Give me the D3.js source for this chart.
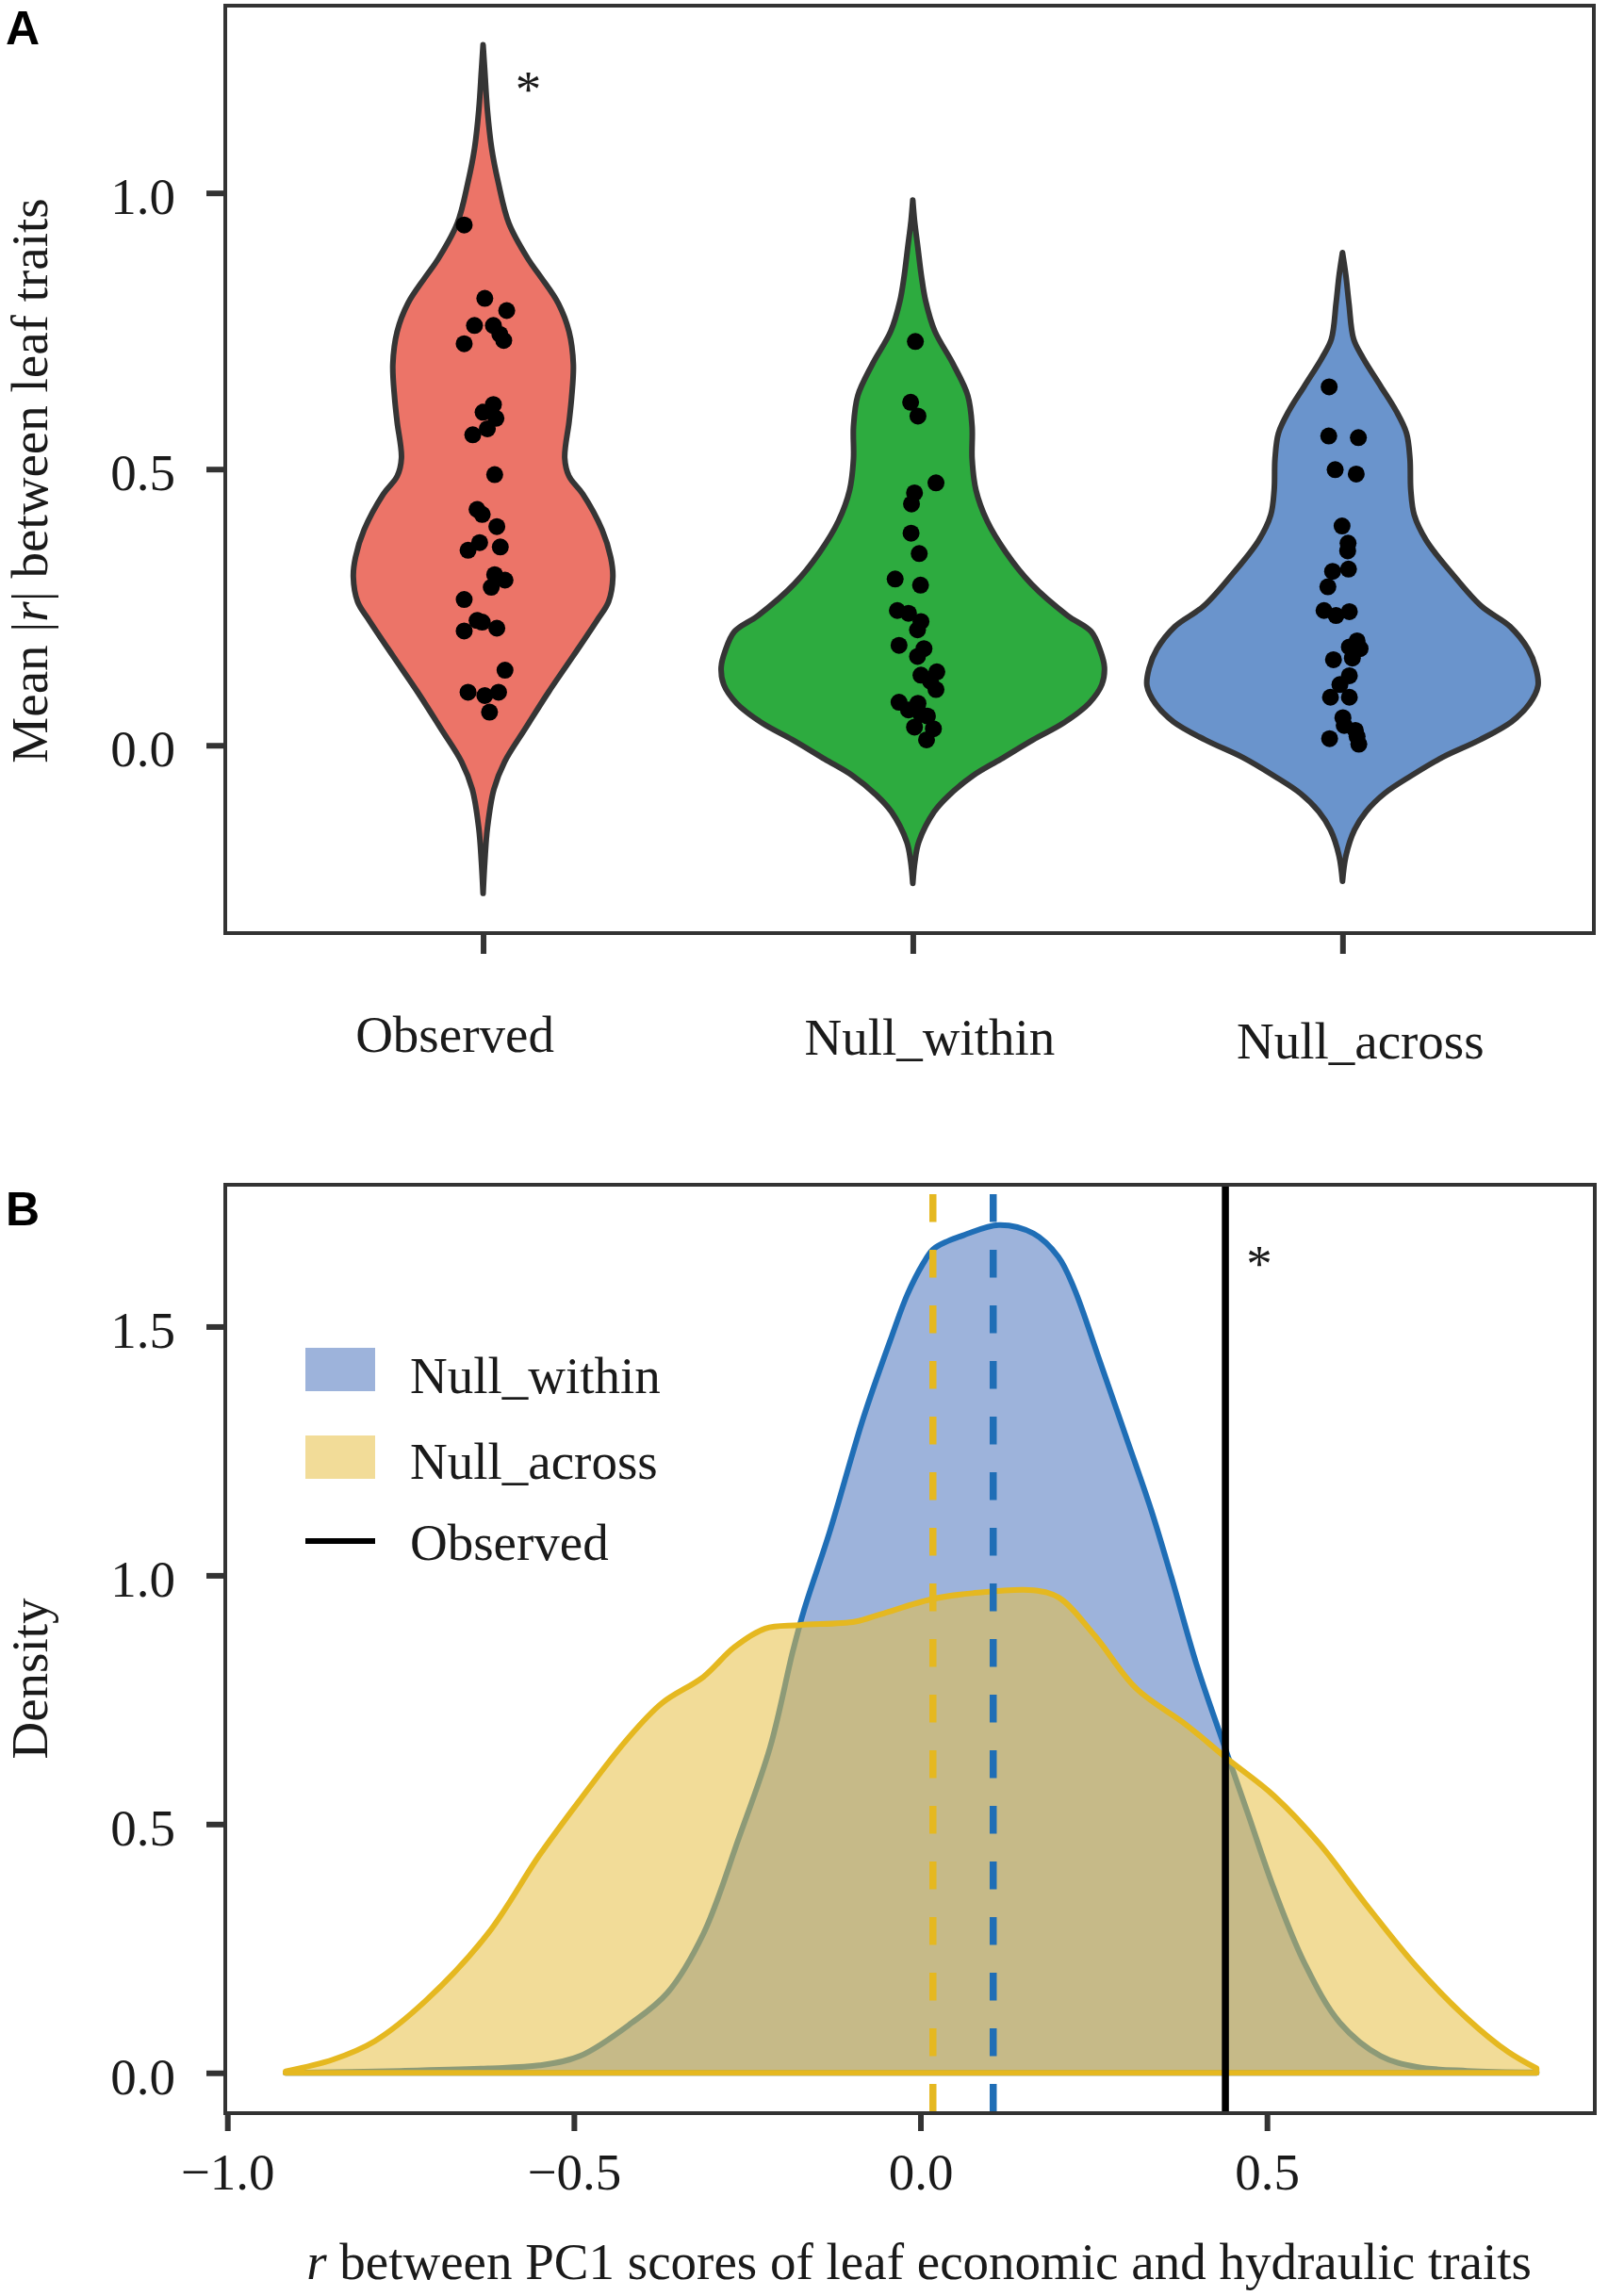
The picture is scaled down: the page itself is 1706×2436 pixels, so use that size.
<!DOCTYPE html>
<html>
<head>
<meta charset="utf-8">
<script src="https://cdn.jsdelivr.net/npm/d3@7"></script>
<style>
  body { margin: 0; background: #fff; }
</style>
</head>
<body>
<svg id="fig" width="1706" height="2436"></svg>
<script>
// ---- data ----
const groups = ['Observed', 'Null_within', 'Null_across'];

// violin outlines: [mean |r|, half width in category units]
const observedProfile = [
  [1.268,0],[1.22,0.004],[1.15,0.01],[1.08,0.02],[1.02,0.035],[0.945,0.06],[0.88,0.105],
  [0.847,0.135],[0.80,0.175],[0.749,0.2],[0.69,0.21],[0.63,0.206],[0.585,0.2],[0.52,0.19],
  [0.487,0.2],[0.455,0.232],[0.39,0.277],[0.34,0.297],[0.305,0.302],[0.26,0.292],[0.226,0.265],
  [0.161,0.209],[0.096,0.152],[0.03,0.098],[-0.03,0.05],[-0.08,0.025],[-0.15,0.01],
  [-0.21,0.004],[-0.268,0]
];
const withinProfile = [
  [0.987,0],[0.95,0.004],[0.90,0.012],[0.85,0.02],[0.804,0.03],[0.75,0.051],[0.69,0.094],
  [0.633,0.128],[0.577,0.138],[0.519,0.138],[0.462,0.147],[0.406,0.173],[0.349,0.217],
  [0.292,0.276],[0.235,0.36],[0.206,0.415],[0.17,0.437],[0.141,0.446],[0.11,0.44],[0.076,0.41],
  [0.04,0.35],[0.01,0.28],[-0.025,0.205],[-0.055,0.14],[-0.09,0.085],[-0.12,0.05],
  [-0.175,0.014],[-0.21,0.005],[-0.25,0]
];
const acrossProfile = [
  [0.892,0],[0.85,0.008],[0.80,0.015],[0.735,0.026],[0.701,0.048],[0.65,0.089],[0.605,0.125],
  [0.565,0.149],[0.519,0.157],[0.462,0.159],[0.417,0.167],[0.371,0.195],[0.309,0.257],
  [0.252,0.323],[0.215,0.39],[0.174,0.432],[0.14,0.45],[0.108,0.455],[0.075,0.435],[0.043,0.394],
  [0.01,0.32],[-0.022,0.232],[-0.055,0.16],[-0.087,0.098],[-0.12,0.055],[-0.153,0.028],
  [-0.2,0.008],[-0.246,0]
];

// points: [mean |r|, horizontal jitter in category units]
const observedDots = [
  [0.942,-0.044],[0.809,0.004],[0.787,0.055],[0.760,-0.020],[0.760,0.024],[0.744,0.039],
  [0.733,0.048],[0.727,-0.044],[0.617,0.024],[0.603,0],[0.592,0.030],[0.573,0.010],
  [0.562,-0.024],[0.490,0.027],[0.427,-0.014],[0.418,-0.002],[0.396,0.032],[0.367,-0.008],
  [0.353,-0.035],[0.359,0.040],[0.309,0.027],[0.299,0.051],[0.286,0.019],[0.264,-0.044],
  [0.226,-0.014],[0.207,-0.044],[0.223,-0.002],[0.212,0.032],[0.136,0.051],[0.096,-0.035],
  [0.090,0.004],[0.096,0.036],[0.060,0.015]
];
const withinDots = [
  [0.731,0.006],[0.621,-0.005],[0.596,0.012],[0.475,0.054],[0.457,0.004],[0.437,-0.003],
  [0.384,-0.004],[0.347,0.015],[0.301,-0.041],[0.290,0.018],[0.244,-0.036],[0.239,-0.010],
  [0.224,0.019],[0.209,0.011],[0.181,-0.032],[0.175,0.026],[0.161,0.011],[0.133,0.056],
  [0.127,0.019],[0.116,0.041],[0.101,0.054],[0.078,-0.032],[0.076,0.012],[0.064,-0.010],
  [0.056,0.019],[0.053,0.034],[0.033,0.004],[0.030,0.048],[0.010,0.032]
];
const acrossDots = [
  [0.649,-0.031],[0.560,-0.032],[0.557,0.037],[0.499,-0.017],[0.491,0.032],[0.397,-0.001],
  [0.366,0.013],[0.352,0.012],[0.315,-0.023],[0.319,0.014],[0.287,-0.034],[0.244,-0.043],
  [0.235,-0.015],[0.242,0.016],[0.189,0.034],[0.178,0.016],[0.175,0.041],[0.155,-0.021],
  [0.158,0.023],[0.126,0.016],[0.110,-0.006],[0.087,-0.028],[0.087,0.016],[0.050,0.001],
  [0.036,0.004],[0.027,0.030],[0.012,-0.030],[0.002,0.038],[0.016,0.034]
];

// panel B densities: [r, density]
const withinDensity = [
  [-0.916,0.0],[-0.75,0.004],[-0.624,0.009],[-0.55,0.015],[-0.491,0.034],[-0.417,0.10],
  [-0.365,0.161],[-0.313,0.28],[-0.262,0.472],[-0.217,0.654],[-0.184,0.848],[-0.168,0.93],
  [-0.131,1.087],[-0.082,1.318],[-0.041,1.482],[-0.019,1.564],[0.004,1.627],[0.018,1.655],
  [0.04,1.672],[0.063,1.684],[0.113,1.704],[0.163,1.687],[0.199,1.64],[0.222,1.576],
  [0.259,1.43],[0.296,1.281],[0.333,1.131],[0.362,0.997],[0.399,0.818],[0.443,0.639],
  [0.473,0.519],[0.51,0.37],[0.554,0.221],[0.605,0.101],[0.664,0.034],[0.716,0.012],
  [0.789,0.004],[0.889,0.001]
];
const acrossDensity = [
  [-0.916,0.003],[-0.847,0.027],[-0.787,0.064],[-0.713,0.146],[-0.624,0.28],[-0.55,0.437],
  [-0.491,0.549],[-0.424,0.669],[-0.373,0.743],[-0.313,0.796],[-0.269,0.855],[-0.224,0.893],
  [-0.175,0.90],[-0.094,0.907],[-0.057,0.922],[0.016,0.952],[0.075,0.964],[0.163,0.970],
  [0.2,0.955],[0.252,0.878],[0.311,0.773],[0.384,0.699],[0.443,0.631],[0.51,0.557],
  [0.576,0.46],[0.642,0.34],[0.716,0.213],[0.789,0.109],[0.848,0.042],[0.889,0.009]
];
const meanWithin = 0.105, meanAcross = 0.018, observedR = 0.44;

const ticksA = [0, 0.5, 1.0];
const ticksBy = [0, 0.5, 1.0, 1.5];
const ticksBx = [-1.0, -0.5, 0.0, 0.5];

// ---- layout / style ----
const serif = '"Liberation Serif", "Times New Roman", serif';
const sans = '"Liberation Sans", Arial, sans-serif';
const ink = '#1a1a1a', axisCol = '#333';
const violinFill = ['#ec7468', '#2dab3f', '#6a94cc'];
const blueLine = '#1f6eb6', blueFill = '#9db3db';
const yellowLine = '#e5b820', yellowFill = '#e7bf44';
const catLabelNudge = [-30, 18, 19], catLabelBase = [1116, 1119, 1123];

const svg = d3.select('#fig');

// ================= Panel A =================
const A = { left: 239, right: 1691, top: 6, bottom: 990 };
const xA = d3.scaleLinear().domain([-0.6, 2.585]).range([A.left, A.right]);
const yA = d3.scaleLinear().domain([-0.34, 1.339]).range([A.bottom, A.top]);
const unitA = xA(1) - xA(0);

const profiles = [observedProfile, withinProfile, acrossProfile];
const dots = [observedDots, withinDots, acrossDots];

const gA = svg.append('g');
profiles.forEach((prof, i) => {
  const cx = xA(i);
  const area = d3.area()
    .y(d => yA(d[0]))
    .x0(d => cx - d[1] * unitA)
    .x1(d => cx + d[1] * unitA)
    .curve(d3.curveCatmullRom);
  gA.append('path')
    .attr('d', area(prof))
    .attr('fill', violinFill[i])
    .attr('stroke', '#353535')
    .attr('stroke-width', 6)
    .attr('stroke-linejoin', 'round');
});
dots.forEach((pts, i) => {
  gA.append('g').selectAll('circle').data(pts).join('circle')
    .attr('cx', d => xA(i) + d[1] * unitA)
    .attr('cy', d => yA(d[0]))
    .attr('r', 9)
    .attr('fill', '#000');
});

// frame
svg.append('rect')
  .attr('x', A.left).attr('y', A.top)
  .attr('width', A.right - A.left).attr('height', A.bottom - A.top)
  .attr('fill', 'none').attr('stroke', axisCol).attr('stroke-width', 4);

// y axis
const gyA = svg.append('g').attr('transform', `translate(${A.left},0)`)
  .call(d3.axisLeft(yA).tickValues(ticksA).tickFormat(d3.format('.1f')).tickSize(20).tickPadding(33));
gyA.select('.domain').remove();
gyA.attr('font-family', serif).attr('font-size', 55);
gyA.selectAll('line').attr('stroke', axisCol).attr('stroke-width', 6);
gyA.selectAll('text').attr('fill', ink).attr('dy', '0.4em');

// x axis (ticks), labels set lower like the figure
const gxA = svg.append('g').attr('transform', `translate(0,${A.bottom})`)
  .call(d3.axisBottom(xA).tickValues([0, 1, 2]).tickFormat('').tickSize(22));
gxA.select('.domain').remove();
gxA.selectAll('line').attr('stroke', axisCol).attr('stroke-width', 6);

svg.append('g').selectAll('text').data(groups).join('text')
  .attr('x', (d, i) => xA(i) + catLabelNudge[i])
  .attr('y', (d, i) => catLabelBase[i])
  .attr('text-anchor', 'middle')
  .attr('font-family', serif).attr('font-size', 55).attr('fill', ink)
  .text(d => d);

// y label
const ylabA = svg.append('text')
  .attr('transform', 'translate(50,510) rotate(-90)')
  .attr('text-anchor', 'middle')
  .attr('font-family', serif).attr('font-size', 55).attr('fill', ink);
ylabA.append('tspan').text('Mean |');
ylabA.append('tspan').attr('font-style', 'italic').text('r');
ylabA.append('tspan').text('| between leaf traits');

// significance star
svg.append('text').attr('x', xA(0) + 48).attr('y', 113)
  .attr('text-anchor', 'middle').attr('font-family', serif).attr('font-size', 55).attr('fill', ink)
  .text('*');

// panel letter
svg.append('text').attr('x', 6).attr('y', 47)
  .attr('font-family', sans).attr('font-weight', 'bold').attr('font-size', 50).attr('fill', '#000')
  .text('A');

// ================= Panel B =================
const B = { left: 239, right: 1692, top: 1257, bottom: 2242 };
const xB = d3.scaleLinear().domain([-1.003, 0.973]).range([B.left, B.right]);
const yB = d3.scaleLinear().domain([-0.081, 1.785]).range([B.bottom, B.top]);

const dens = d3.area()
  .x(d => xB(d[0]))
  .y0(yB(0))
  .y1(d => yB(d[1]))
  .curve(d3.curveCatmullRom);

const gB = svg.append('g');
gB.append('path').attr('d', dens(withinDensity))
  .attr('fill', blueFill).attr('stroke', blueLine).attr('stroke-width', 6)
  .attr('stroke-linejoin', 'round');
gB.append('path').attr('d', dens(acrossDensity))
  .attr('fill', yellowFill).attr('fill-opacity', 0.55).attr('stroke', 'none');
gB.append('path').attr('d', dens(acrossDensity))
  .attr('fill', 'none').attr('stroke', yellowLine).attr('stroke-width', 6)
  .attr('stroke-linejoin', 'round');

// reference lines
[[meanAcross, yellowLine], [meanWithin, blueLine]].forEach(([v, c]) => {
  gB.append('line')
    .attr('x1', xB(v)).attr('x2', xB(v))
    .attr('y1', B.top).attr('y2', B.bottom)
    .attr('stroke', c).attr('stroke-width', 7.5)
    .attr('stroke-dasharray', '29.5 29.5').attr('stroke-dashoffset', 49);
});
gB.append('line')
  .attr('x1', xB(observedR)).attr('x2', xB(observedR))
  .attr('y1', B.top).attr('y2', B.bottom)
  .attr('stroke', '#000').attr('stroke-width', 7.5);

// frame
svg.append('rect')
  .attr('x', B.left).attr('y', B.top)
  .attr('width', B.right - B.left).attr('height', B.bottom - B.top)
  .attr('fill', 'none').attr('stroke', axisCol).attr('stroke-width', 4);

// axes
const gyB = svg.append('g').attr('transform', `translate(${B.left},0)`)
  .call(d3.axisLeft(yB).tickValues(ticksBy).tickFormat(d3.format('.1f')).tickSize(20).tickPadding(33));
gyB.select('.domain').remove();
gyB.attr('font-family', serif).attr('font-size', 55);
gyB.selectAll('line').attr('stroke', axisCol).attr('stroke-width', 6);
gyB.selectAll('text').attr('fill', ink).attr('dy', '0.4em');

const gxB = svg.append('g').attr('transform', `translate(0,${B.bottom})`)
  .call(d3.axisBottom(xB).tickValues(ticksBx).tickFormat(d3.format('.1f')).tickSize(19).tickPadding(23));
gxB.select('.domain').remove();
gxB.attr('font-family', serif).attr('font-size', 55);
gxB.selectAll('line').attr('stroke', axisCol).attr('stroke-width', 6);
gxB.selectAll('text').attr('fill', ink);

// labels
svg.append('text')
  .attr('transform', 'translate(50,1781) rotate(-90)')
  .attr('text-anchor', 'middle')
  .attr('font-family', serif).attr('font-size', 55).attr('fill', ink)
  .text('Density');

const xlabB = svg.append('text')
  .attr('x', 975).attr('y', 2418)
  .attr('text-anchor', 'middle')
  .attr('font-family', serif).attr('font-size', 55).attr('fill', ink);
xlabB.append('tspan').attr('font-style', 'italic').text('r');
xlabB.append('tspan').text(' between PC1 scores of leaf economic and hydraulic traits');

svg.append('text').attr('x', xB(observedR) + 36).attr('y', 1359)
  .attr('text-anchor', 'middle').attr('font-family', serif).attr('font-size', 55).attr('fill', ink)
  .text('*');

svg.append('text').attr('x', 6).attr('y', 1300)
  .attr('font-family', sans).attr('font-weight', 'bold').attr('font-size', 50).attr('fill', '#000')
  .text('B');

// legend
const legendItems = ['Null_within', 'Null_across', 'Observed'];
const legBase = [1478, 1569, 1655];
const leg = svg.append('g');
leg.append('rect').attr('x', 324).attr('y', 1430).attr('width', 74).attr('height', 46).attr('fill', blueFill);
leg.append('rect').attr('x', 324).attr('y', 1523).attr('width', 74).attr('height', 46)
  .attr('fill', yellowFill).attr('fill-opacity', 0.55);
leg.append('line').attr('x1', 324).attr('x2', 398).attr('y1', 1635).attr('y2', 1635)
  .attr('stroke', '#000').attr('stroke-width', 6);
leg.selectAll('text').data(legendItems).join('text')
  .attr('x', 435).attr('y', (d, i) => legBase[i])
  .attr('font-family', serif).attr('font-size', 55).attr('fill', ink)
  .text(d => d);
</script>
</body>
</html>
